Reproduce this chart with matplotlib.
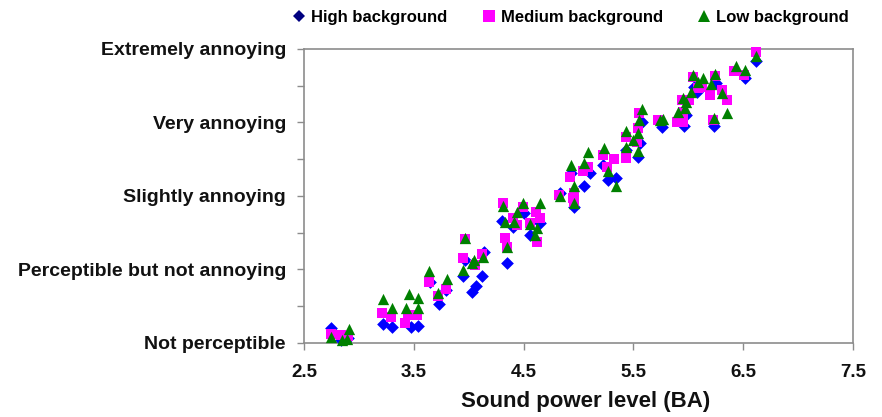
import matplotlib
matplotlib.use("Agg")
import matplotlib.pyplot as plt
from matplotlib.lines import Line2D

plt.rcParams['font.family'] = ['Liberation Sans', 'DejaVu Sans']
plt.rcParams['font.weight'] = 'bold'

# Annoyance rating scale (1 = not perceptible ... 5 = extremely annoying)
rating_labels = ["Not perceptible", "Perceptible but not annoying",
                 "Slightly annoying", "Very annoying", "Extremely annoying"]
rating_levels = [1, 2, 3, 4, 5]
x_ticks = [2.5, 3.5, 4.5, 5.5, 6.5, 7.5]

# High background noise
high_x = [2.75, 2.84, 2.90, 3.22, 3.30, 3.47, 3.54, 3.65, 3.73, 3.79, 3.95, 3.97,
          4.03, 4.07, 4.12, 4.14, 4.30, 4.35, 4.40, 4.50, 4.56, 4.65, 4.83, 4.93,
          4.96, 5.05, 5.10, 5.22, 5.27, 5.34, 5.43, 5.54, 5.56, 5.58, 5.76, 5.96,
          5.98, 6.05, 6.08, 6.25, 6.23, 6.52, 6.62]
high_y = [1.20, 1.04, 1.07, 1.26, 1.22, 1.22, 1.23, 1.83, 1.53, 1.72, 1.91, 2.13,
          1.69, 1.78, 1.91, 2.24, 2.66, 2.09, 2.58, 2.77, 2.47, 2.63, 3.04, 3.31,
          2.85, 3.14, 3.31, 3.42, 3.22, 3.24, 3.63, 3.53, 3.72, 4.01, 3.94, 3.95,
          4.10, 4.48, 4.41, 4.54, 3.95, 4.61, 4.84]

# Medium background noise
medium_x = [2.75, 2.84, 2.90, 3.21, 3.29, 3.42, 3.45, 3.53, 3.64, 3.72, 3.79, 3.95,
            3.97, 4.06, 4.12, 4.31, 4.33, 4.35, 4.40, 4.44, 4.49, 4.56, 4.61, 4.62,
            4.65, 4.82, 4.95, 4.96, 4.96, 4.92, 5.04, 5.09, 5.22, 5.26, 5.32, 5.43,
            5.43, 5.53, 5.54, 5.55, 5.72, 5.90, 5.95, 5.94, 6.01, 5.95, 6.04, 6.09,
            6.12, 6.24, 6.20, 6.22, 6.31, 6.35, 6.42, 6.51, 6.62]
medium_y = [1.12, 1.11, 1.10, 1.41, 1.35, 1.27, 1.38, 1.38, 1.83, 1.64, 1.73, 2.16,
            2.41, 2.06, 2.21, 2.90, 2.43, 2.31, 2.70, 2.61, 2.85, 2.63, 2.78, 2.37,
            2.70, 3.01, 2.97, 3.04, 2.92, 3.26, 3.34, 3.39, 3.56, 3.39, 3.50, 3.80,
            3.52, 3.73, 3.93, 4.13, 4.03, 4.01, 4.01, 4.31, 4.31, 4.14, 4.62, 4.47,
            4.48, 4.63, 4.37, 4.03, 4.44, 4.31, 4.70, 4.65, 4.96]

# Low background noise
low_x = [2.75, 2.85, 2.89, 2.91, 3.22, 3.30, 3.43, 3.46, 3.54, 3.54, 3.64, 3.72,
         3.80, 3.95, 3.97, 4.03, 4.05, 4.13, 4.31, 4.33, 4.35, 4.41, 4.44, 4.49,
         4.56, 4.62, 4.60, 4.65, 4.83, 4.96, 4.96, 4.93, 5.05, 5.09, 5.23, 5.27,
         5.34, 5.43, 5.43, 5.50, 5.54, 5.54, 5.55, 5.58, 5.74, 5.77, 5.91, 5.95,
         5.98, 6.02, 5.97, 6.04, 6.09, 6.13, 6.24, 6.21, 6.23, 6.31, 6.35, 6.43,
         6.52, 6.62]
low_y = [1.08, 1.04, 1.05, 1.19, 1.60, 1.48, 1.48, 1.67, 1.61, 1.48, 1.98, 1.68,
         1.87, 1.99, 2.43, 2.09, 2.13, 2.17, 2.86, 2.65, 2.31, 2.65, 2.78, 2.90,
         2.62, 2.56, 2.47, 2.90, 3.00, 3.14, 2.90, 3.42, 3.45, 3.60, 3.65, 3.34,
         3.14, 3.88, 3.67, 3.76, 3.61, 3.86, 4.03, 4.18, 4.03, 4.05, 4.14, 4.33,
         4.28, 4.41, 4.20, 4.65, 4.55, 4.61, 4.66, 4.52, 4.06, 4.40, 4.13, 4.77,
         4.71, 4.90]

fig = plt.figure(figsize=(8.82, 4.17), dpi=100)
ax = fig.add_axes([0.3447, 0.1775, 0.6225, 0.705])

blue, magenta, green = "#0000FF", "#FF00FF", "#008000"
ax.scatter(high_x, high_y, marker="D", s=42, color=blue, linewidths=0,
           clip_on=False, zorder=3)
ax.scatter(medium_x, medium_y, marker="s", s=50, color=magenta, linewidths=0,
           clip_on=False, zorder=4)
ax.scatter(low_x, low_y, marker="^", s=66, color=green, linewidths=0,
           clip_on=False, zorder=5)

ax.set_xlim(2.5, 7.5)
ax.set_ylim(1, 5)
ax.set_xticks(x_ticks)
ax.set_xticklabels([f"{v:.1f}" for v in x_ticks], fontsize=13.5, fontweight="bold")
ax.set_yticks(rating_levels)
ax.set_yticklabels(rating_labels, fontsize=14.0, fontweight="bold")
ax.set_yticks([1.5, 2.5, 3.5, 4.5], minor=True)

for side in ("left", "right", "top", "bottom"):
    ax.spines[side].set_color("#8c8c8c")
    ax.spines[side].set_linewidth(1.2)
ax.tick_params(axis="both", which="both", direction="out", color="#8c8c8c",
               width=1.0, length=5, labelcolor="#111111")
ax.tick_params(axis="x", pad=10)
ax.tick_params(axis="y", pad=8)

ax.set_xlabel("Sound power level (BA)", fontsize=16, fontweight="bold",
              color="#111111", labelpad=8)
ax.xaxis.set_label_coords(0.512, -0.165)

handles = [
    Line2D([], [], linestyle="none", marker="D", markersize=6,
           color="#000080", markeredgewidth=0, label="High background"),
    Line2D([], [], linestyle="none", marker="s", markersize=8,
           color=magenta, markeredgewidth=0, label="Medium background"),
    Line2D([], [], linestyle="none", marker="^", markersize=9,
           color=green, markeredgewidth=0, label="Low background"),
]
fig.legend(handles=handles, loc="center", bbox_to_anchor=(0.647, 0.958),
           ncol=3, frameon=False, prop={"size": 12.0, "weight": "bold"},
           handlelength=0.8, handletextpad=0.3, columnspacing=2.1)

fig.savefig("out.png", dpi=100)
